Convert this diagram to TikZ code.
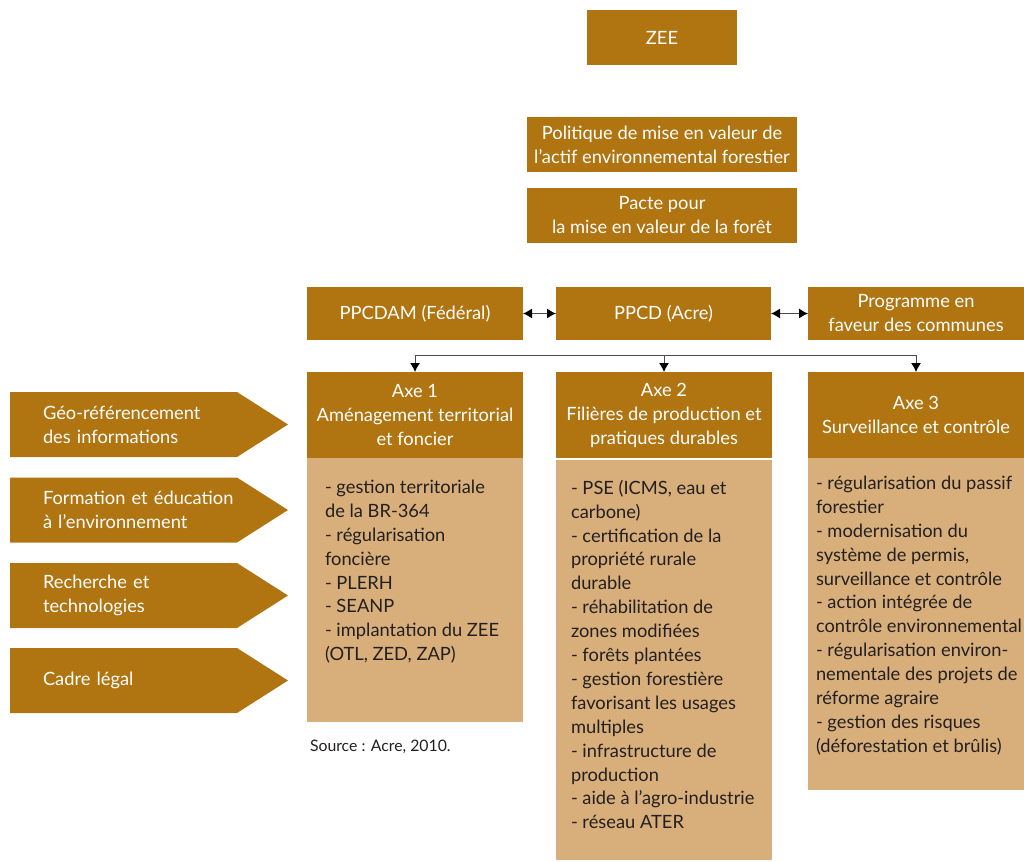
\documentclass[tikz,border=0pt]{standalone}
\usepackage{fontspec}
\setmainfont{Lato}
\usetikzlibrary{arrows.meta,positioning,calc}
\definecolor{ocre}{RGB}{176,116,16}
\definecolor{sable}{RGB}{216,175,122}
\definecolor{encre}{RGB}{35,31,32}

\begin{document}
\begin{tikzpicture}[x=1pt,y=-1pt,every node/.style={inner sep=0pt,outer sep=0pt},
    titre/.style={fill=ocre, text=white, align=center, font=\fontsize{18.3}{24}\selectfont},
    corps/.style={fill=sable, minimum width=216pt},
    liste/.style={anchor=north west, align=left, text=encre, font=\fontsize{18.3}{23.9}\selectfont},
    fleche/.style={minimum width=278pt, minimum height=65pt, text width=212pt, inner xsep=33pt,
        align=left, text=white, font=\fontsize{18.3}{24}\selectfont,
        path picture={\fill[ocre] (path picture bounding box.north west)
            -- ([xshift=-51pt]path picture bounding box.north east)
            -- (path picture bounding box.east)
            -- ([xshift=-51pt]path picture bounding box.south east)
            -- (path picture bounding box.south west) -- cycle;}},
    lien/.style={line width=1pt, draw=black!70},
    ]
    \useasboundingbox (0,0) rectangle (1024,861);

    % niveau national
    \node[titre, minimum width=150pt, minimum height=55pt] (zee) at (662,37.5) {ZEE};
    \node[titre, minimum width=270pt, minimum height=55pt] (politique) at (662,144.5) {Politique de mise en valeur de\\l’actif environnemental forestier};
    \node[titre, minimum width=270pt, minimum height=55pt] (pacte) at (662,215.5) {Pacte pour\\la mise en valeur de la forêt};

    % plans
    \node[titre, minimum width=216pt, minimum height=53pt] (ppcdam) at (415,313.5) {PPCDAM (Fédéral)};
    \node[titre, minimum width=215pt, minimum height=53pt] (ppcd) at (663.5,313.5) {PPCD (Acre)};
    \node[titre, minimum width=216pt, minimum height=53pt] (programme) at (916,313.5) {Programme en\\faveur des communes};

    \draw[lien, {Latex[length=9pt,width=10pt,color=black]}-{Latex[length=9pt,width=10pt,color=black]}] (ppcdam) -- (ppcd);
    \draw[lien, {Latex[length=9pt,width=10pt,color=black]}-{Latex[length=9pt,width=10pt,color=black]}] (ppcd) -- (programme);

    % axes
    \node[titre, minimum width=216pt, minimum height=86pt] (axe1) at (415,415) {Axe 1\\Aménagement territorial\\et foncier};
    \node[titre, minimum width=216pt, minimum height=86pt] (axe2) at (664,415) {Axe 2\\Filières de production et\\pratiques durables};
    \node[titre, minimum width=216pt, minimum height=86pt] (axe3) at (916,415) {Axe 3\\Surveillance et contrôle};

    \coordinate (bus) at (664,355);
    \draw[lien, -{Latex[length=9pt,width=10pt,color=black]}] (bus) -| (axe1.north);
    \draw[lien, -{Latex[length=9pt,width=10pt,color=black]}] (bus) -- (axe2.north);
    \draw[lien, -{Latex[length=9pt,width=10pt,color=black]}] (bus) -| (axe3.north);

    \node[corps, minimum height=264pt] (corps1) at (415,590) {};
    \node[corps, minimum height=400pt] (corps2) at (664,660) {};
    \node[corps, minimum height=332pt] (corps3) at (916,624) {};

    \node[liste] (liste1) at ([shift={(18,22)}]corps1.north west) {- gestion territoriale\\de la BR-364\\- régularisation\\foncière\\- PLERH\\- SEANP\\- implantation du ZEE\\(OTL, ZED, ZAP)};
    \node[liste] (liste2) at ([shift={(15,20)}]corps2.north west) {- PSE (ICMS, eau et\\carbone)\\- certification de la\\propriété rurale\\durable\\- réhabilitation de\\zones modifiées\\- forêts plantées\\- gestion forestière\\favorisant les usages\\multiples\\- infrastructure de\\production\\- aide à l’agro-industrie\\- réseau ATER};
    \node[liste] (liste3) at ([shift={(8,18)}]corps3.north west) {- régularisation du passif\\forestier\\- modernisation du\\système de permis,\\surveillance et contrôle\\- action intégrée de\\contrôle environnemental\\- régularisation environ-\\nementale des projets de\\réforme agraire\\- gestion des risques\\(déforestation et brûlis)};

    % instruments transversaux
    \node[fleche] (geo) at (149,424.5) {Géo-référencement\\des informations};
    \node[fleche] (formation) at (149,510) {Formation et éducation\\à l’environnement};
    \node[fleche] (recherche) at (149,595.5) {Recherche et\\technologies};
    \node[fleche] (cadre) at (149,680.5) {Cadre légal};

    \node[anchor=west, text=encre, font=\fontsize{15.8}{19}\selectfont] (source) at (310,747) {Source : Acre, 2010.};
\end{tikzpicture}
\end{document}
